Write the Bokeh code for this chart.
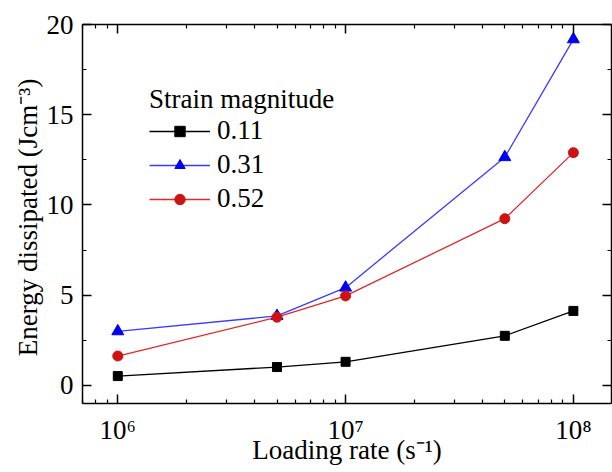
from bokeh.plotting import figure
from bokeh.models import (Range1d, LinearAxis, LogAxis, FixedTicker, Legend, LegendItem)
from bokeh.embed import file_html
from bokeh.resources import INLINE

# ---- data ----
rates = [1e6, 5e6, 1e7, 5e7, 1e8]
strain_labels = ["0.11", "0.31", "0.52"]
energy_011 = [0.52, 1.02, 1.31, 2.75, 4.13]
energy_031 = [3.00, 3.85, 5.42, 12.65, 19.18]
energy_052 = [1.63, 3.78, 4.96, 9.24, 12.90]

x_major = [1e6, 1e7, 1e8]
x_major_labels = ["10\u2076", "10\u2077", "10\u2078"]
x_minor = [m * 10 ** e for e in (5, 6, 7, 8) for m in range(2, 10)]
y_major = [0, 5, 10, 15, 20]
y_minor = [2.5, 7.5, 12.5, 17.5]

FONT = "'Liberation Serif', 'Times New Roman', serif"

p = figure(width=612, height=472, x_axis_type="log",
           x_range=Range1d(7.0e5, 1.47e8), y_range=Range1d(-1, 20),
           output_backend="svg", toolbar_location=None,
           min_border_left=82, min_border_right=1, min_border_top=24,
           min_border_bottom=69)
p.xgrid.visible = False
p.ygrid.visible = False
p.outline_line_color = None
p.background_fill_color = "white"
p.border_fill_color = "white"

def style_axis(ax, labels=True):
    ax.axis_line_color = "black"
    ax.axis_line_width = 1.5
    ax.major_tick_line_color = "black"
    ax.minor_tick_line_color = "black"
    ax.major_tick_line_width = 1.5
    ax.minor_tick_line_width = 1.2
    ax.major_tick_in = 9
    ax.major_tick_out = 0
    ax.minor_tick_in = 4
    ax.minor_tick_out = 0
    ax.major_label_text_color = "black"
    if labels:
        ax.major_label_text_font_size = "27px"
    else:
        ax.major_label_text_font_size = "1px"
        ax.major_label_text_alpha = 0
        ax.major_label_standoff = 0

xa = p.xaxis[0]
xa.ticker = FixedTicker(ticks=x_major, minor_ticks=x_minor)
xa.major_label_overrides = {v: s for v, s in zip(x_major, x_major_labels)}
style_axis(xa)
xa.major_label_standoff = 11
xa.axis_label = "Loading rate (s\u207B\u00B9)"
xa.axis_label_text_font_size = "27px"
xa.axis_label_text_font_style = "normal"
xa.axis_label_text_color = "black"
xa.axis_label_standoff = -13

ya = p.yaxis[0]
ya.ticker = FixedTicker(ticks=y_major, minor_ticks=y_minor)
style_axis(ya)
ya.major_label_standoff = 9
ya.axis_label = "Energy dissipated  (Jcm\u207B\u00B3)"
ya.axis_label_text_font_size = "27px"
ya.axis_label_text_font_style = "normal"
ya.axis_label_text_color = "black"
ya.axis_label_standoff = 1

top = LogAxis(ticker=FixedTicker(ticks=x_major, minor_ticks=x_minor))
style_axis(top, labels=False)
p.add_layout(top, "above")
right = LinearAxis(ticker=FixedTicker(ticks=y_major, minor_ticks=y_minor))
style_axis(right, labels=False)
p.add_layout(right, "right")

series = [
    (energy_011, "black", "black", "square", 9),
    (energy_031, "#3a3aff", "#0000f0", "triangle", 12),
    (energy_052, "#e02828", "#cc1414", "circle", 10),
]
items = []
for lab, (vals, lc, mc, mk, sz) in zip(strain_labels, series):
    r1 = p.line(rates, vals, line_color=lc, line_width=1.3)
    r2 = p.scatter(rates, vals, marker=mk, size=sz, fill_color=mc, line_color=mc)
    items.append(LegendItem(label=lab, renderers=[r1, r2]))

leg = Legend(items=items, location=(67, 189), title="Strain magnitude")
leg.title_text_font_size = "27px"
leg.title_text_font_style = "normal"
leg.title_text_color = "black"
leg.title_standoff = -3
leg.label_text_font_size = "27px"
leg.label_text_font_style = "normal"
leg.label_text_color = "black"
leg.glyph_width = 61
leg.glyph_height = 26
leg.label_standoff = 7
leg.spacing = 3
leg.padding = 0
leg.margin = 0
leg.border_line_alpha = 0
leg.background_fill_alpha = 0
p.add_layout(leg, "center")

for ax in p.axis:
    ax.major_label_text_font = FONT
    ax.axis_label_text_font = FONT
p.legend.label_text_font = FONT
p.legend.title_text_font = FONT

open("out.html", "w").write(file_html(p, INLINE))
